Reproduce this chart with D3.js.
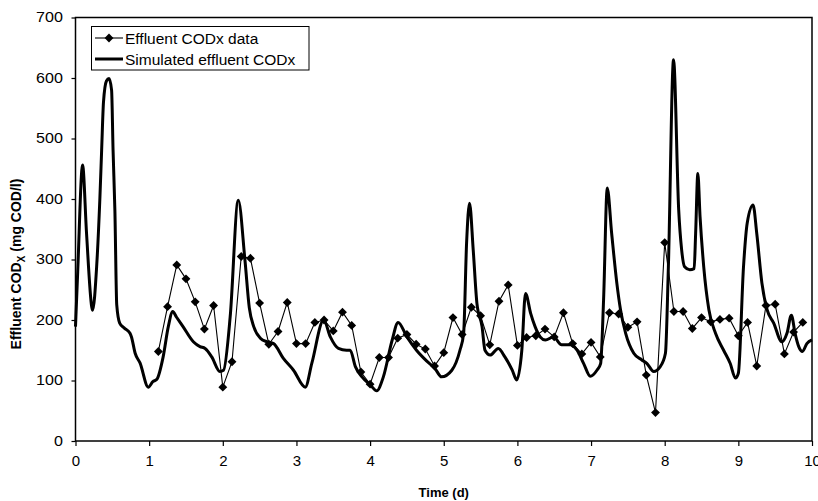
<!DOCTYPE html>
<html><head><meta charset="utf-8">
<script src="https://cdn.jsdelivr.net/npm/d3@7"></script>
<style>
body{margin:0;background:#fff;}
text{font-family:"Liberation Sans",Arial,sans-serif;fill:#000;}
</style></head>
<body><svg id="c" width="818" height="501"></svg>
<script>
// Measured effluent CODx data (time in d, value in mg COD/l)
const dataTime = [1.125,1.25,1.375,1.5,1.625,1.75,1.875,2.0,2.125,2.25,2.375,2.5,2.625,2.75,2.875,3.0,3.125,3.25,3.375,3.5,3.625,3.75,3.875,4.0,4.125,4.25,4.375,4.5,4.625,4.75,4.875,5.0,5.125,5.25,5.375,5.5,5.625,5.75,5.875,6.0,6.125,6.25,6.375,6.5,6.625,6.75,6.875,7.0,7.125,7.25,7.375,7.5,7.625,7.75,7.875,8.0,8.125,8.25,8.375,8.5,8.625,8.75,8.875,9.0,9.125,9.25,9.375,9.5,9.625,9.75,9.875];
const dataCOD = [148,222,291,268,230,185,224,89,131,305,302,228,160,181,229,161,161,196,200,182,213,191,114,94,138,138,170,176,160,152,124,146,204,176,221,207,159,231,258,158,171,174,185,172,212,161,144,163,139,212,210,188,197,109,47,328,214,214,186,204,197,201,203,174,196,124,224,226,144,180,196];
// Simulated effluent CODx
const simTime = [0,0.03,0.096,0.15,0.22,0.232,0.287,0.33,0.355,0.38,0.42,0.455,0.49,0.51,0.535,0.56,0.6,0.66,0.74,0.76,0.81,0.876,0.988,1.05,1.105,1.19,1.26,1.32,1.37,1.46,1.6,1.69,1.76,1.85,1.96,2.01,2.1,2.21,2.3,2.36,2.42,2.51,2.6,2.69,2.82,2.96,3.12,3.21,3.37,3.46,3.57,3.68,3.73,3.8,3.89,4.0,4.09,4.18,4.3,4.38,4.5,4.63,4.77,4.88,4.97,5.11,5.22,5.27,5.31,5.35,5.4,5.45,5.52,5.56,5.63,5.74,5.83,5.93,5.99,6.06,6.11,6.18,6.24,6.31,6.38,6.49,6.6,6.72,6.81,6.9,6.99,7.08,7.13,7.17,7.22,7.28,7.35,7.4,7.47,7.58,7.69,7.76,7.85,7.94,8.01,8.05,8.12,8.19,8.23,8.27,8.34,8.4,8.42,8.45,8.48,8.53,8.6,8.69,8.8,8.89,8.96,9.0,9.07,9.12,9.2,9.25,9.32,9.39,9.48,9.59,9.66,9.72,9.77,9.82,9.87,9.93,10.0];
const simCOD = [189,280,456,343,222,216,288,398,481,560,595,599,580,481,380,225,195,187,178,172,145,129,89,98,102,139,189,214,205,189,164,156,153,139,115,117,205,398,300,220,189,170,164,161,137,117,89,129,200,172,153,150,150,123,106,93,83,106,167,196,172,150,132,120,106,117,150,178,327,393,316,228,189,150,142,153,139,117,101,150,244,211,189,172,167,172,159,159,150,128,107,117,128,233,418,343,261,217,178,145,134,128,115,123,145,288,630,382,316,288,283,285,343,442,371,288,217,178,150,128,104,112,288,360,390,343,261,217,195,164,178,208,178,156,148,161,167];
const xTicks = [0,1,2,3,4,5,6,7,8,9,10];
const yTicks = [0,100,200,300,400,500,600,700];
const legendLabels = ["Effluent CODx data","Simulated effluent CODx"];

const svg = d3.select("#c");
const L = 75.5, R = 812, T = 17.5, B = 441;
const x = d3.scaleLinear().domain([0,10]).range([L,R]);
const y = d3.scaleLinear().domain([0,700]).range([B,T]);

// frame
svg.append("rect").attr("x",L).attr("y",T).attr("width",R-L).attr("height",B-T)
  .attr("fill","none").attr("stroke","#000").attr("stroke-width",1.5);

// axes
const ya = svg.append("g").attr("transform",`translate(${L},0)`)
  .call(d3.axisLeft(y).tickValues(yTicks).tickSize(4).tickPadding(8).tickFormat(d3.format("d")));
ya.select(".domain").remove();
ya.selectAll("text").attr("font-size",14).style("font-family","Liberation Sans, Arial, sans-serif").attr("transform","scale(1.15,1)").attr("x",-11);
ya.selectAll("line").attr("stroke-width",1.2);

const xa = svg.append("g").attr("transform",`translate(0,${B})`)
  .call(d3.axisBottom(x).tickValues(xTicks).tickSize(5).tickPadding(9).tickFormat(d3.format("d")));
xa.select(".domain").remove();
xa.selectAll("text").attr("font-size",15).style("font-family","Liberation Sans, Arial, sans-serif");
xa.selectAll("line").attr("stroke-width",1.2);

// simulated line
const simLine = d3.line().x((d,i)=>x(simTime[i])).y(d=>y(d)).curve(d3.curveMonotoneX);
svg.append("path").datum(simCOD).attr("d",simLine).attr("fill","none")
  .attr("stroke","#000").attr("stroke-width",3).attr("stroke-linejoin","round");

// data line + diamonds
const dataLine = d3.line().x((d,i)=>x(dataTime[i])).y(d=>y(d));
svg.append("path").datum(dataCOD).attr("d",dataLine).attr("fill","none")
  .attr("stroke","#000").attr("stroke-width",1.1);
const diamond = d3.symbol().type(d3.symbolDiamond2).size(50);
svg.append("g").selectAll("path").data(dataCOD).join("path")
  .attr("transform",(d,i)=>`translate(${x(dataTime[i])},${y(d)})`)
  .attr("d",diamond).attr("fill","#000");

// legend
const lg = svg.append("g");
lg.append("rect").attr("x",91.5).attr("y",26.5).attr("width",217.5).attr("height",43.5)
  .attr("fill","#fff").attr("stroke","#000").attr("stroke-width",1);
lg.append("line").attr("x1",95).attr("x2",123).attr("y1",38).attr("y2",38).attr("stroke","#000").attr("stroke-width",1.1);
lg.append("path").attr("transform","translate(109,38)").attr("d",diamond).attr("fill","#000");
lg.append("line").attr("x1",95).attr("x2",123).attr("y1",59).attr("y2",59).attr("stroke","#000").attr("stroke-width",3);
lg.selectAll("text.lab").data(legendLabels).join("text").attr("class","lab")
  .attr("x",125).attr("y",(d,i)=>43.5+i*21).attr("font-size",15.5).text(d=>d);

// axis titles
svg.append("text").attr("x",(L+R)/2).attr("y",497).attr("text-anchor","middle")
  .attr("font-size",13).attr("font-weight","bold").text("Time (d)");
const yt = svg.append("text").attr("transform","translate(21,264) rotate(-90)")
  .attr("text-anchor","middle").attr("font-size",14).attr("font-weight","bold");
yt.append("tspan").text("Effluent COD");
yt.append("tspan").attr("font-size",10).attr("dy",4).text("X");
yt.append("tspan").attr("dy",-4).text(" (mg COD/l)");
</script>
</body></html>
